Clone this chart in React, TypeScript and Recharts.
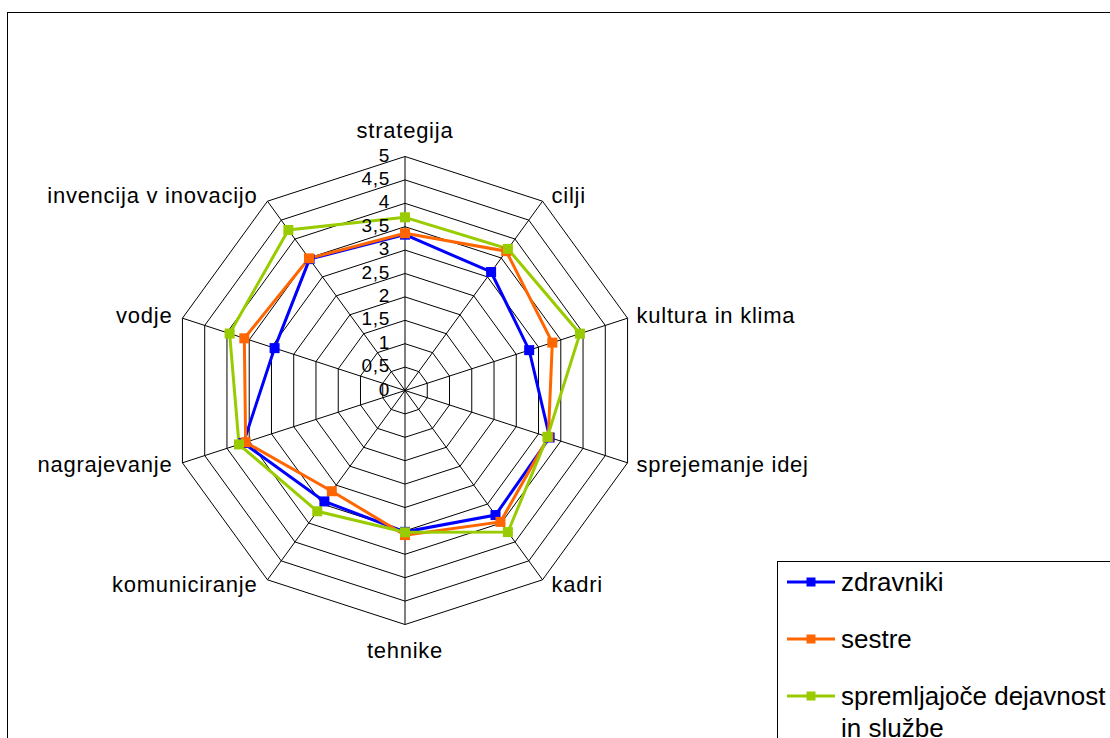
import React from "react";
import {
  RadarChart,
  Radar,
  PolarGrid,
  PolarAngleAxis,
  PolarRadiusAxis,
} from "recharts";

const categories = [
  "strategija",
  "cilji",
  "kultura in klima",
  "sprejemanje idej",
  "kadri",
  "tehnike",
  "komuniciranje",
  "nagrajevanje",
  "vodje",
  "invencija v inovacijo",
];

const zdravniki = [3.33, 3.13, 2.79, 3.25, 3.29, 3.02, 2.93, 3.63, 2.93, 3.47];
const sestre = [3.36, 3.68, 3.31, 3.22, 3.47, 3.09, 2.66, 3.58, 3.61, 3.49];
const spremljajoce = [3.7, 3.74, 3.93, 3.2, 3.74, 3.03, 3.19, 3.73, 3.94, 4.24];

const radiusTicks = [0, 0.5, 1, 1.5, 2, 2.5, 3, 3.5, 4, 4.5, 5];

const seriesNames = ["zdravniki", "sestre", "spremljajoče dejavnost in službe"];
const seriesKeys = ["zdravniki", "sestre", "spremljajoce"];
const seriesColors = ["#0000FF", "#FF6600", "#99CC00"];

const data = categories.map((c, i) => ({
  category: c,
  zdravniki: zdravniki[i],
  sestre: sestre[i],
  spremljajoce: spremljajoce[i],
}));

const FONT = "'Liberation Sans', Arial, sans-serif";

const AngleTick = (props: any) => {
  const { x, y, payload } = props;
  const a = (payload.coordinate * Math.PI) / 180;
  const c = Math.cos(a);
  const sdy = -Math.sin(a);
  const vx = x - 8 * c;
  const vy = y - 8 * sdy;
  let tx = vx;
  let ty = vy;
  let anchor: any = "middle";
  if (Math.abs(c) < 0.1) {
    ty = sdy < 0 ? vy - 19 : vy + 33;
  } else {
    anchor = c > 0 ? "start" : "end";
    tx = vx + (c > 0 ? 9 : -10);
    ty = vy + 7 + 6.5 * sdy;
  }
  return (
    <text
      x={tx}
      y={ty}
      textAnchor={anchor}
      fontFamily={FONT}
      fontSize={22}
      letterSpacing={0.75}
      fill="#000"
    >
      {payload.value}
    </text>
  );
};

const RadiusTick = (props: any) => {
  const { x, y, payload } = props;
  return (
    <text
      x={x - 15}
      y={y + 5}
      textAnchor="end"
      fontFamily={FONT}
      fontSize={19}
      letterSpacing={0.7}
      fill="#000"
    >
      {String(payload.value).replace(".", ",")}
    </text>
  );
};

const makeDot = (color: string) => (props: any) => {
  const { cx, cy, key } = props;
  if (cx == null || cy == null) return <g key={key} />;
  return <rect key={key} x={cx - 5} y={cy - 5} width={10} height={10} fill={color} />;
};

export default function App() {
  return (
    <div
      style={{
        position: "absolute",
        left: 0,
        top: 0,
        width: 1110,
        height: 738,
        overflow: "hidden",
        background: "#fff",
      }}
    >
      <div
        style={{
          position: "absolute",
          left: 7,
          top: 12,
          width: 1200,
          height: 800,
          border: "1px solid #000",
          boxSizing: "border-box",
        }}
      />
      <div style={{ position: "absolute", left: 0, top: 0 }}>
        <RadarChart
          width={1110}
          height={738}
          data={data}
          cx={405}
          cy={390.5}
          outerRadius={234}
          margin={{ top: 0, right: 0, bottom: 0, left: 0 }}
        >
          <PolarGrid gridType="polygon" stroke="#000" strokeWidth={1} strokeOpacity={1} />
          <PolarAngleAxis
            dataKey="category"
            tick={AngleTick}
            tickLine={false}
            axisLine={false}
          />
          <PolarRadiusAxis
            angle={90}
            domain={[0, 5]}
            ticks={radiusTicks as any}
            tickCount={11}
            type="number"
            tick={RadiusTick}
            axisLine={false}
            tickLine={false}
          />
          {seriesKeys.map((k, i) => (
            <Radar
              key={k}
              name={seriesNames[i]}
              dataKey={k}
              stroke={seriesColors[i]}
              strokeWidth={3}
              fill="none"
              fillOpacity={0}
              dot={makeDot(seriesColors[i])}
              isAnimationActive={false}
            />
          ))}
        </RadarChart>
      </div>
      <div
        style={{
          position: "absolute",
          left: 777,
          top: 561,
          width: 400,
          height: 300,
          border: "1px solid #000",
          background: "#fff",
        }}
      >
        {seriesNames.map((n, i) => (
          <div
            key={n}
            style={{
              position: "absolute",
              left: 9,
              top: 4 + i * 57,
              display: "flex",
              alignItems: "flex-start",
            }}
          >
            <svg width={50} height={32} style={{ display: "block" }}>
              <line x1={0} x2={48} y1={16} y2={16} stroke={seriesColors[i]} strokeWidth={3} />
              <rect x={19.5} y={11.5} width={9} height={9} fill={seriesColors[i]} />
            </svg>
            <div
              style={{
                marginLeft: 4,
                width: 275,
                fontFamily: FONT,
                fontSize: 26,
                lineHeight: "32px",
                letterSpacing: 0,
                color: "#000",
              }}
            >
              {n}
            </div>
          </div>
        ))}
      </div>
    </div>
  );
}
